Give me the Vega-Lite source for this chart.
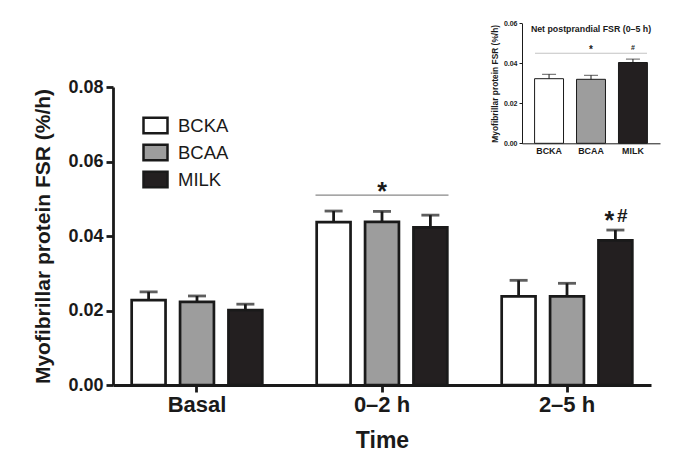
{
  "$schema": "https://vega.github.io/schema/vega-lite/v6.json",
  "width": 538,
  "height": 298,
  "autosize": {"type": "none"},
  "padding": {"left": 113, "top": 87, "right": 29, "bottom": 78},
  "background": "white",
  "config": {
    "view": {"stroke": null},
    "font": "Liberation Sans",
    "axis": {"grid": false, "labelColor": "#1a1a1a", "titleColor": "#1a1a1a", "domainColor": "#1a1a1a", "tickColor": "#1a1a1a"}
  },
  "datasets": {
    "main": [
      {"time": "Basal", "group": "BCKA", "value": 0.0228, "upper": 0.0250},
      {"time": "Basal", "group": "BCAA", "value": 0.0223, "upper": 0.0239},
      {"time": "Basal", "group": "MILK", "value": 0.0201, "upper": 0.0217},
      {"time": "0–2 h", "group": "BCKA", "value": 0.0437, "upper": 0.0467},
      {"time": "0–2 h", "group": "BCAA", "value": 0.0438, "upper": 0.0466},
      {"time": "0–2 h", "group": "MILK", "value": 0.0423, "upper": 0.0456},
      {"time": "2–5 h", "group": "BCKA", "value": 0.0238, "upper": 0.0281},
      {"time": "2–5 h", "group": "BCAA", "value": 0.0238, "upper": 0.0273},
      {"time": "2–5 h", "group": "MILK", "value": 0.0388, "upper": 0.0416}
    ],
    "inset": [
      {"group": "BCKA", "value": 0.0323, "upper": 0.0345},
      {"group": "BCAA", "value": 0.0320, "upper": 0.0340},
      {"group": "MILK", "value": 0.0404, "upper": 0.0421}
    ],
    "mainLine": [
      {"time": "0–2 h", "value": 0.0510, "star": 0.0497, "label": "*"}
    ],
    "mainMark": [
      {"time": "2–5 h", "group": "MILK", "star": 0.0418, "hash": 0.0438}
    ],
    "insetNotes": [
      {"group": "BCAA", "line": 0.0450, "star": 0.0454, "title": 0.0557},
      {"group": "MILK", "hash": 0.0469}
    ]
  },
  "layer": [
    {
      "layer": [
        {
          "data": {"name": "main"},
          "mark": {"type": "bar", "stroke": "#1a1a1a", "strokeWidth": 2.7, "strokeJoin": "miter"},
          "encoding": {
            "x": {
              "field": "time", "type": "nominal", "sort": ["Basal", "0–2 h", "2–5 h"],
              "scale": {"paddingInner": 0.19, "paddingOuter": 0.049},
              "axis": {
                "title": "Time", "labelAngle": 0, "labelFontSize": 22, "labelFontWeight": "bold",
                "tickSize": 7, "tickWidth": 2.8, "domainWidth": 2.8, "labelPadding": 2,
                "titleFontSize": 23, "titleFontWeight": "bold", "titlePadding": 14
              }
            },
            "xOffset": {
              "field": "group", "type": "nominal", "sort": ["BCKA", "BCAA", "MILK"],
              "scale": {"paddingInner": 0.3, "paddingOuter": 0.1985}
            },
            "y": {
              "field": "value", "type": "quantitative",
              "scale": {"domain": [0, 0.08]},
              "axis": {
                "title": "Myofibrillar protein FSR (%/h)", "values": [0, 0.02, 0.04, 0.06, 0.08], "format": ".2f",
                "labelFontSize": 18, "labelFontWeight": "bold", "tickSize": 7, "tickWidth": 2.8, "domainWidth": 2.8,
                "labelPadding": 3, "titleFontSize": 21, "titleFontWeight": "bold", "titlePadding": 14
              }
            },
            "fill": {
              "field": "group", "type": "nominal", "sort": ["BCKA", "BCAA", "MILK"],
              "scale": {"domain": ["BCKA", "BCAA", "MILK"], "range": ["#ffffff", "#9d9d9d", "#231f20"]},
              "legend": {
                "title": null, "orient": "none", "legendX": 29, "legendY": 25,
                "symbolType": "M-1,-0.65H1V0.65H-1Z", "symbolSize": 576, "symbolStrokeColor": "#1a1a1a",
                "symbolStrokeWidth": 2.5, "labelFontSize": 18.5, "labelFont": "Liberation Sans",
                "labelColor": "#1a1a1a", "labelOffset": 9, "rowPadding": 0, "padding": 0
              }
            }
          }
        },
        {
          "data": {"name": "main"},
          "mark": {"type": "rule", "color": "#1a1a1a", "strokeWidth": 2.8},
          "encoding": {
            "x": {"field": "time", "type": "nominal", "sort": ["Basal", "0–2 h", "2–5 h"]},
            "xOffset": {"field": "group", "type": "nominal", "sort": ["BCKA", "BCAA", "MILK"]},
            "y": {"field": "value", "type": "quantitative"},
            "y2": {"field": "upper"}
          }
        },
        {
          "data": {"name": "main"},
          "mark": {"type": "tick", "color": "#1a1a1a", "thickness": 2.8, "size": 18},
          "encoding": {
            "x": {"field": "time", "type": "nominal", "sort": ["Basal", "0–2 h", "2–5 h"]},
            "xOffset": {"field": "group", "type": "nominal", "sort": ["BCKA", "BCAA", "MILK"]},
            "y": {"field": "upper", "type": "quantitative"}
          }
        },
        {
          "data": {"name": "mainLine"},
          "mark": {"type": "tick", "color": "#555555", "thickness": 1.2, "size": 133},
          "encoding": {
            "x": {"field": "time", "type": "nominal", "sort": ["Basal", "0–2 h", "2–5 h"]},
            "y": {"field": "value", "type": "quantitative"}
          }
        },
        {
          "data": {"name": "mainLine"},
          "mark": {"type": "text", "fontSize": 25, "fontWeight": "bold", "color": "#1a1a1a", "baseline": "alphabetic"},
          "encoding": {
            "x": {"field": "time", "type": "nominal", "sort": ["Basal", "0–2 h", "2–5 h"]},
            "y": {"field": "star", "type": "quantitative"},
            "text": {"field": "label"}
          }
        },
        {
          "data": {"name": "mainMark"},
          "mark": {"type": "text", "text": "*", "fontSize": 25, "fontWeight": "bold", "color": "#1a1a1a", "baseline": "alphabetic", "dx": -6},
          "encoding": {
            "x": {"field": "time", "type": "nominal", "sort": ["Basal", "0–2 h", "2–5 h"]},
            "xOffset": {"field": "group", "type": "nominal", "sort": ["BCKA", "BCAA", "MILK"]},
            "y": {"field": "star", "type": "quantitative"}
          }
        },
        {
          "data": {"name": "mainMark"},
          "mark": {"type": "text", "text": "#", "fontSize": 19, "fontWeight": "bold", "color": "#1a1a1a", "baseline": "alphabetic", "dx": 7},
          "encoding": {
            "x": {"field": "time", "type": "nominal", "sort": ["Basal", "0–2 h", "2–5 h"]},
            "xOffset": {"field": "group", "type": "nominal", "sort": ["BCKA", "BCAA", "MILK"]},
            "y": {"field": "hash", "type": "quantitative"}
          }
        }
      ]
    },
    {
      "layer": [
        {
          "data": {"name": "inset"},
          "mark": {"type": "bar", "stroke": "#1a1a1a", "strokeWidth": 1, "strokeJoin": "miter"},
          "encoding": {
            "x": {
              "field": "group", "type": "nominal", "sort": ["BCKA", "BCAA", "MILK"],
              "scale": {"range": [409, 547], "paddingInner": 0.31, "paddingOuter": 0.3},
              "axis": {
                "orient": "bottom", "offset": -241.7, "title": null, "labelAngle": 0, "labelFontSize": 8.9,
                "labelFontWeight": "bold", "ticks": false, "labelPadding": 3, "domainWidth": 1
              }
            },
            "y": {
              "field": "value", "type": "quantitative",
              "scale": {"domain": [0, 0.06], "range": [56.3, -63.7]},
              "axis": {
                "orient": "left", "offset": -409, "values": [0, 0.02, 0.04, 0.06], "format": ".2f",
                "labelFontSize": 7, "labelFontWeight": "bold", "tickSize": 3, "tickWidth": 1, "domainWidth": 1,
                "labelPadding": 2, "title": "Myofibrillar protein FSR (%/h)", "titleFontSize": 8.4,
                "titleFontWeight": "bold", "titlePadding": 4
              }
            },
            "fill": {"field": "group", "type": "nominal", "sort": ["BCKA", "BCAA", "MILK"]}
          }
        },
        {
          "data": {"name": "inset"},
          "mark": {"type": "rule", "color": "#1a1a1a", "strokeWidth": 1},
          "encoding": {
            "x": {"field": "group", "type": "nominal", "sort": ["BCKA", "BCAA", "MILK"]},
            "y": {"field": "value", "type": "quantitative"},
            "y2": {"field": "upper"}
          }
        },
        {
          "data": {"name": "inset"},
          "mark": {"type": "tick", "color": "#1a1a1a", "thickness": 1, "size": 14},
          "encoding": {
            "x": {"field": "group", "type": "nominal", "sort": ["BCKA", "BCAA", "MILK"]},
            "y": {"field": "upper", "type": "quantitative"}
          }
        },
        {
          "data": {"name": "insetNotes"},
          "transform": [{"filter": "datum.line != null"}],
          "mark": {"type": "tick", "color": "#aaaaaa", "thickness": 1, "size": 112},
          "encoding": {
            "x": {"field": "group", "type": "nominal", "sort": ["BCKA", "BCAA", "MILK"]},
            "y": {"field": "line", "type": "quantitative"}
          }
        },
        {
          "data": {"name": "insetNotes"},
          "transform": [{"filter": "datum.star != null"}],
          "mark": {"type": "text", "text": "*", "fontSize": 10, "fontWeight": "bold", "color": "#1a1a1a", "baseline": "alphabetic"},
          "encoding": {
            "x": {"field": "group", "type": "nominal", "sort": ["BCKA", "BCAA", "MILK"]},
            "y": {"field": "star", "type": "quantitative"}
          }
        },
        {
          "data": {"name": "insetNotes"},
          "transform": [{"filter": "datum.hash != null"}],
          "mark": {"type": "text", "text": "#", "fontSize": 7, "fontWeight": "bold", "color": "#1a1a1a", "baseline": "alphabetic"},
          "encoding": {
            "x": {"field": "group", "type": "nominal", "sort": ["BCKA", "BCAA", "MILK"]},
            "y": {"field": "hash", "type": "quantitative"}
          }
        },
        {
          "data": {"name": "insetNotes"},
          "transform": [{"filter": "datum.title != null"}],
          "mark": {"type": "text", "text": "Net postprandial FSR (0–5 h)", "fontSize": 8.8, "fontWeight": "bold", "color": "#1a1a1a", "baseline": "alphabetic"},
          "encoding": {
            "x": {"field": "group", "type": "nominal", "sort": ["BCKA", "BCAA", "MILK"]},
            "y": {"field": "title", "type": "quantitative"}
          }
        }
      ]
    }
  ],
  "resolve": {
    "scale": {"x": "independent", "y": "independent"},
    "axis": {"x": "independent", "y": "independent"}
  }
}
